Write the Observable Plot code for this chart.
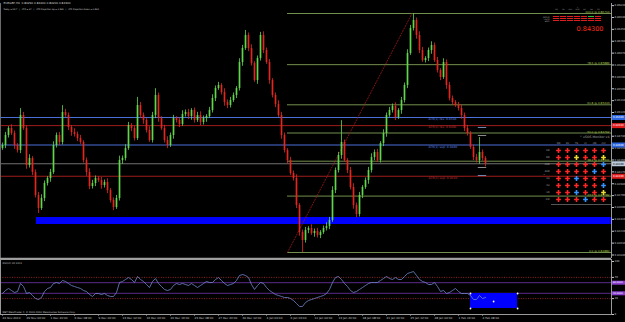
<!DOCTYPE html>
<html>
<head>
<meta charset="utf-8">
<script src="https://cdn.jsdelivr.net/npm/d3@7"></script>
<script src="https://cdn.jsdelivr.net/npm/@observablehq/plot@0.6"></script>
<style>
html,body{margin:0;padding:0;background:#000;}
#chart{position:relative;width:625px;height:322px;background:#000;overflow:hidden;}
</style>
</head>
<body>
<div id="chart"></div>
<script>
// ---------------- DATA ----------------
const symbolTitle = "EURGBP,H4  0.84290 0.84400 0.84200 0.84300";
const infoLine = "Today = 53.7   |   ATR = 67   |   ATR Projection Up = 0.849   |   ATR Projection Down = 0.842";
const bigPrice = "0.84300";

const firstOpen = 0.84544;
const closes = [
0.84592,0.84752,0.84864,0.84784,0.84592,0.84512,0.85072,0.84864,0.84272,0.84384,
0.84160,0.83792,0.83584,0.83744,0.83984,0.84064,0.84160,0.84592,0.84752,0.84640,
0.85120,0.85072,0.84880,0.84800,0.84768,0.84704,0.84640,0.84352,0.84160,0.83936,
0.83984,0.84064,0.84032,0.83952,0.84000,0.83872,0.83712,0.83600,0.83744,0.84352,
0.84384,0.84544,0.84912,0.84864,0.84704,0.85232,0.85072,0.84992,0.84832,0.84672,
0.85072,0.85392,0.85024,0.84864,0.84672,0.84592,0.84752,0.85024,0.84992,0.84928,
0.85088,0.85120,0.85056,0.85152,0.84992,0.85072,0.84960,0.85024,0.85056,0.85152,
0.85344,0.85504,0.85552,0.85440,0.85280,0.85232,0.85312,0.85392,0.85504,0.85920,
0.86144,0.86352,0.86144,0.85904,0.85632,0.85984,0.86352,0.86112,0.85920,0.85632,
0.85392,0.85248,0.85072,0.84752,0.84512,0.84352,0.84144,0.84064,0.83632,0.83200,
0.83072,0.83232,0.83264,0.83184,0.83216,0.83152,0.83200,0.83264,0.83296,0.83392,
0.83872,0.84192,0.84432,0.84640,0.84352,0.84192,0.83920,0.83632,0.83488,0.83792,
0.83920,0.84032,0.84192,0.84400,0.84480,0.84352,0.84624,0.84784,0.85072,0.85152,
0.85216,0.85040,0.85152,0.85312,0.85552,0.86064,0.86464,0.86592,0.86352,0.86112,
0.85952,0.85984,0.86112,0.86192,0.85952,0.85792,0.85680,0.85920,0.85552,0.85344,
0.85280,0.85232,0.85184,0.85072,0.84864,0.84784,0.84560,0.84400,0.84352,0.84480,
0.84384,0.84300];
// wick lengths beyond the body, in pips
const wickUp = [
4,5,3,6,4,3,11,5,4,6, 3,4,5,6,4,3,5,6,4,5, 11,5,4,3,6,4,5,3,4,6, 5,4,3,5,4,6,3,4,5,7,
4,6,5,3,4,13,5,4,3,6, 5,11,4,3,5,6,4,5,3,4, 6,4,5,3,4,5,6,4,3,5, 6,4,5,3,6,4,5,4,3,6,
5,8,4,6,3,4,5,6,4,5, 3,4,6,5,4,3,5,4,6,3, 4,5,3,6,4,5,3,4,6,5, 6,4,5,35,4,3,5,6,4,5,
3,4,5,6,4,5,3,6,4,5, 4,6,3,5,4,6,5,11,4,6, 5,3,4,6,4,5,3,6,4,5, 4,3,5,6,4,5,3,4,5,24,
4,3];
const wickDown = [
3,5,4,3,6,4,5,3,6,4, 5,4,8,3,5,4,6,3,4,5, 4,3,5,6,4,5,3,4,6,5, 4,5,3,6,4,5,4,5,3,4,
6,4,3,5,4,3,5,6,4,3, 4,5,6,3,4,5,3,6,4,5, 3,4,5,6,4,3,5,4,6,3, 4,5,3,4,6,5,4,3,5,4,
6,3,5,4,3,6,4,5,3,6, 4,5,3,6,4,5,3,4,5,6, 19,4,5,3,6,4,5,3,4,5, 3,5,4,6,3,5,4,6,5,4,
5,3,6,4,5,3,4,5,6,3, 4,5,3,6,4,5,3,4,6,5, 3,4,5,6,3,4,5,3,6,4, 5,3,4,6,5,4,3,5,4,6,
4,5];
const rsiValues = [
39.6,45.3,49.1,45.3,41.5,43.4,58.5,52.8,39.6,41.5,
35.9,30.2,28.3,32.1,43.4,49.1,50.9,58.5,60.4,58.5,
64.2,62.3,58.5,54.7,52.8,50.9,49.1,45.3,43.4,37.7,
34.0,39.6,39.6,37.7,39.6,35.9,34.0,34.0,41.5,60.4,
62.3,66.0,69.8,66.0,60.4,71.7,66.0,62.3,56.6,50.9,
62.3,67.9,58.5,52.8,47.2,45.3,47.2,54.7,58.5,56.6,
58.5,56.6,54.7,58.5,54.7,50.9,54.7,58.5,62.3,60.4,
60.4,66.0,69.8,64.2,58.5,54.7,56.6,58.5,64.2,73.6,
75.5,73.6,69.8,56.6,47.2,54.7,60.4,58.5,50.9,45.3,
41.5,37.7,35.9,34.0,32.1,32.1,30.2,26.4,20.8,15.1,
15.1,22.6,26.4,28.3,30.2,32.1,34.0,35.9,39.6,47.2,
60.4,69.8,71.7,66.0,58.5,52.8,45.3,41.5,43.4,47.2,
50.9,54.7,58.5,60.4,60.4,60.4,64.2,67.9,71.7,67.9,
66.0,69.8,66.0,66.0,71.7,77.4,79.2,81.1,73.6,66.0,
62.3,60.4,56.6,56.6,60.4,52.8,43.4,45.3,39.6,41.5,
45.3,49.1,43.4,39.6,39.6,39.6,35.9,28.3,28.3,35.9,
30.2,32.1];

const timeLabels = ["24 Nov 2010","29 Nov 04:00","1 Dec 20:00","6 Dec 08:00","9 Dec 00:00","13 Dec 12:00",
  "16 Dec 04:00","20 Dec 16:00","23 Dec 08:00","27 Dec 20:00","30 Dec 12:00","4 Jan 00:00","6 Jan 16:00",
  "11 Jan 04:00","13 Jan 20:00","18 Jan 08:00","21 Jan 00:00","25 Jan 12:00","28 Jan 04:00","1 Feb 16:00","4 Feb 08:00"];
const timeLabelBars = [0,8,16,24,32,40,48,56,64,72,80,88,96,104,112,120,128,136,144,152,160];

const priceTicks = [0.86830,0.86640,0.86450,0.86260,0.86070,0.85880,0.85690,0.85500,0.85310,0.85120,0.84930,
  0.84740,0.84550,0.84360,0.84170,0.83980,0.83790,0.83600,0.83410,0.83220,0.83030,0.82840];

const zoneStartBar = 11.3;
const zonePrices = [0.83328, 0.83440];
const atrPrices = [0.8504, 0.8491, 0.8460, 0.8410];
const atrNames = ["ATR(1) res", "ATR(1) res", "ATR(1) sup", "ATR(1) sup"];
const atrLabelBar = 142;
const bidPrice = 0.8430;
const fibLevels = [0, 23.6, 38.2, 50, 61.8, 78.6, 100];
const fibLowPrice = 0.82880, fibHighPrice = 0.86704;
const fibLowBar = 95, fibHighBar = 136.5;
const projPrices = [0.84880, 0.84752, 0.84240, 0.84112];
const projBars = [158.6, 161.4];
const axisBoxPrices = [0.8504, 0.8491, 0.8460, 0.8430, 0.8410];
const axisBoxKinds = ["blue", "red", "blue", "bid", "red"];

const rsiTitle = "RSI(14) 32.1311";
const copyright = "MBT MetaTrader 4, \u00a9 2001-2010 MetaQuotes Software Corp.";
const rsiDotted = [70, 30];
const rsiSolid = [60, 40];
const rsiTicks = [100, 70, 30, 0];
const rsiBoxBars = [156, 171.7];
const rsiBoxValues = [11.3, 39.6];
const rsiBoxMid = [163.7, 24.5];

const mtfCols = ["M1","M5","M15","M30","H1","H4","D1"];
const mtfRows = ["MACD","STR","EMA"];
const mtfStates = ["-----+-", "-------", "-------"];

const sigTitle = "xSOS Monitor v4";
const sigCols = ["PM","RV","TR","CI","CM","CCI"];
const sigRows = ["1M","5M","15M","30M","1H","4H","1D","1W"];
const sigStates = ["dddddd","ddyddy","dddddu","ddddud","dduddd","dddddu","dduddy","dddudd"];

// ---------------- STYLE ----------------
const BULL = "#5ed84a", BEAR = "#e3261f", ZONE = "#0000ff", FIB = "#738f4c", FIBTEXT = "#a0c040";
const atrColors = ["#4a6fd8", "#a01c1c", "#4a6fd8", "#a01c1c"];
const atrTextColors = ["#5d80e0", "#c03030", "#5d80e0", "#c03030"];
const projColors = ["#6f86b0", "#8a8a8a", "#8a8a8a", "#6f86b0"];
const boxFill = {blue: "#2b66e0", red: "#e01b1b", bid: "#b9cadb"};
const boxText = {blue: "#ffffff", red: "#ffffff", bid: "#000000"};
const sigColors = {d: "#ff2626", y: "#e8dc30", u: "#3592ff"};
const FONT = "'DejaVu Sans', sans-serif";
const xMin = -2 / 3, xMax = 203;
const yDomain = [0.82784, 0.86864];

// ---------------- BUILD ----------------
const bars = closes.map((c, i) => {
  const o = i === 0 ? firstOpen : closes[i - 1];
  return {i, o, c, hi: Math.max(o, c) + wickUp[i] / 1e4, lo: Math.min(o, c) - wickDown[i] / 1e4};
});
const candleColor = d => d.c >= d.o ? BULL : BEAR;
const fibs = fibLevels.map(l => ({l, p: fibLowPrice + (fibHighPrice - fibLowPrice) * l / 100}));
const atr = atrPrices.map((p, i) => ({p, name: atrNames[i], k: i}));
const proj = projPrices.map((p, k) => ({p, k}));
const boxes = axisBoxPrices.map((p, i) => ({p, kind: axisBoxKinds[i]}));

const baseStyle = {background: "transparent", color: "#c8c8c8", fontFamily: FONT, fontSize: "3px", overflow: "visible"};

const main = Plot.plot({
  width: 625, height: 260,
  marginLeft: 0, marginRight: 14, marginTop: 3, marginBottom: 2,
  style: baseStyle,
  x: {domain: [xMin, xMax], axis: null},
  y: {domain: yDomain},
  color: {type: "identity"},
  marks: [
    Plot.rect([{a: zoneStartBar, b: xMax, lo: zonePrices[0], hi: zonePrices[1]}], {x1: "a", x2: "b", y1: "lo", y2: "hi", fill: ZONE}),
    Plot.ruleY(atr, {y: "p", stroke: d => atrColors[d.k], strokeWidth: 1}),
    Plot.ruleY([bidPrice], {y: d => d, stroke: "#707070", strokeWidth: 1}),
    Plot.ruleY(fibs, {y: "p", x1: fibLowBar, x2: xMax, stroke: FIB, strokeWidth: 1}),
    Plot.line([{x: fibLowBar, p: fibLowPrice}, {x: fibHighBar, p: fibHighPrice}], {x: "x", y: "p", stroke: "#a01818", strokeWidth: 0.8, strokeDasharray: "1.2,1.6"}),
    Plot.ruleX(bars, {x: "i", y1: "lo", y2: "hi", stroke: candleColor, strokeWidth: 0.8}),
    Plot.ruleX(bars, {x: "i", y1: "o", y2: "c", stroke: candleColor, strokeWidth: 1.7}),
    Plot.ruleY(proj, {y: "p", x1: projBars[0], x2: projBars[1], stroke: d => projColors[d.k], strokeWidth: 1}),
    Plot.text(atr, {x: atrLabelBar, y: "p", text: d => `${d.name}: ${d.p.toFixed(4)}`, textAnchor: "start", lineAnchor: "top", dy: 0.6, fill: d => atrTextColors[d.k], fontSize: 3}),
    Plot.text(fibs, {y: "p", frameAnchor: "right", text: d => `${d.l.toFixed(1)} @ ${d.p.toFixed(5)}`, textAnchor: "end", lineAnchor: "bottom", dx: -2, dy: -0.4, fill: FIBTEXT, fontSize: 2.8}),
    Plot.axisY(priceTicks, {anchor: "right", tickSize: 2, tickPadding: 1, tickFormat: d3.format(".5f"), fontSize: 2.6}),
    Plot.ruleY(boxes, {y: "p", x1: xMax + 0.1, x2: xMax + 5, stroke: d => boxFill[d.kind], strokeWidth: 5}),
    Plot.text(boxes, {y: "p", frameAnchor: "right", dx: 1.5, textAnchor: "start", text: d => d.p.toFixed(5), fill: d => boxText[d.kind], fontSize: 2.6}),
    Plot.ruleX([xMin], {x: d => d, stroke: "#6a6a6a"}),
    Plot.ruleX([xMax], {x: d => d, stroke: "#9a9a9a"}),
    Plot.ruleY([yDomain[0]], {y: d => d, stroke: "#a0a0a0", strokeWidth: 1.5}),
    Plot.text([symbolTitle], {text: d => d, frameAnchor: "top-left", dx: 3, dy: 0, lineAnchor: "middle", textAnchor: "start", fill: "#d8d8d8", fontSize: 2.8}),
    Plot.text([infoLine], {text: d => d, frameAnchor: "top-left", dx: 3, dy: 5.5, lineAnchor: "middle", textAnchor: "start", fill: "#d8d8d8", fontSize: 2.1}),
    Plot.text([bigPrice], {text: d => d, frameAnchor: "top-right", dx: -8, dy: 25, lineAnchor: "middle", textAnchor: "end", fill: "#ff2a1a", fontSize: 6.5})
  ]
});

const rsiBox = {a: rsiBoxBars[0], b: rsiBoxBars[1], lo: rsiBoxValues[0], hi: rsiBoxValues[1]};
const rsiCorners = [
  {x: rsiBoxBars[0], v: rsiBoxValues[0]}, {x: rsiBoxBars[1], v: rsiBoxValues[0]},
  {x: rsiBoxBars[0], v: rsiBoxValues[1]}, {x: rsiBoxBars[1], v: rsiBoxValues[1]},
  {x: rsiBoxMid[0], v: rsiBoxMid[1]}
];

const rsiPlot = Plot.plot({
  width: 625, height: 64,
  marginLeft: 0, marginRight: 14, marginTop: 1, marginBottom: 8,
  style: baseStyle,
  x: {domain: [xMin, xMax]},
  y: {domain: [0, 100], range: [56, 3]},
  color: {type: "identity"},
  marks: [
    Plot.ruleY(rsiDotted, {y: d => d, stroke: "#a02828", strokeWidth: 0.9, strokeDasharray: "1,1.4"}),
    Plot.ruleY(rsiSolid, {y: d => d, stroke: "#5a2a8a", strokeWidth: 1}),
    Plot.rect([rsiBox], {x1: "a", x2: "b", y1: "lo", y2: "hi", fill: ZONE}),
    Plot.line(rsiValues, {x: (d, i) => i, y: d => d, stroke: "#7088cc", strokeWidth: 0.8}),
    Plot.dot(rsiCorners, {x: "x", y: "v", r: 0.9, fill: "#ffffff"}),
    Plot.axisY(rsiTicks, {anchor: "right", tickSize: 2, tickPadding: 1, fontSize: 2.6}),
    Plot.ruleY(rsiSolid, {y: d => d, x1: xMax + 0.1, x2: xMax + 5, stroke: "#8a3fd0", strokeWidth: 4}),
    Plot.text(rsiSolid, {y: d => d, frameAnchor: "right", dx: 1.5, textAnchor: "start", text: d => d.toFixed(4), fill: "#ffffff", fontSize: 2.4}),
    Plot.axisX(timeLabelBars, {anchor: "bottom", tickSize: 1.5, tickPadding: 1, textAnchor: "start", tickFormat: d => timeLabels[timeLabelBars.indexOf(d)], fontSize: 2.8}),
    Plot.frame({stroke: "#9a9a9a"}),
    Plot.text([rsiTitle], {text: d => d, frameAnchor: "top-left", dx: 2, dy: 4, lineAnchor: "middle", textAnchor: "start", fill: "#c8c8c8", fontSize: 2.4}),
    Plot.text([copyright], {text: d => d, frameAnchor: "bottom-left", dx: 2, dy: -2, lineAnchor: "middle", textAnchor: "start", fill: "#c8c8c8", fontSize: 2.4})
  ]
});

const mtfCells = mtfRows.flatMap((r, ri) => mtfCols.map((c, ci) => ({r, c, s: mtfStates[ri][ci]})));
const mtf = Plot.plot({
  width: 66, height: 22,
  marginLeft: 10, marginRight: 2, marginTop: 11, marginBottom: 2,
  style: {...baseStyle, color: "#a0a0a0"},
  x: {domain: mtfCols, padding: 0.14},
  y: {domain: mtfRows, padding: 0.28},
  color: {type: "identity"},
  marks: [
    Plot.cell(mtfCells, {x: "c", y: "r", fill: d => d.s === "+" ? "#2fbf3a" : "#e01c1c"}),
    Plot.axisX({anchor: "top", tickSize: 0, tickPadding: 4.5, fontSize: 1.8}),
    Plot.axisY({anchor: "left", tickSize: 0, tickPadding: 1, fontSize: 2.2})
  ]
});

const sigCells = sigRows.flatMap((r, ri) => sigCols.map((c, ci) => ({r, c, s: sigStates[ri][ci]})));
const sig = Plot.plot({
  width: 72, height: 73,
  marginLeft: 11, marginRight: 2, marginTop: 12, marginBottom: 1,
  style: {...baseStyle, color: "#a8a8a8"},
  x: {domain: sigCols},
  y: {domain: sigRows},
  color: {type: "identity"},
  marks: [
    Plot.frame({anchor: "bottom", stroke: "#555555"}),
    Plot.dot(sigCells, {x: "c", y: "r", symbol: "cross", r: 2, fill: d => sigColors[d.s], stroke: "none"}),
    Plot.axisX({anchor: "top", tickSize: 0, tickPadding: 1, fontSize: 2.4}),
    Plot.axisY({anchor: "left", tickSize: 0, tickPadding: 2, fontSize: 2.4}),
    Plot.text([sigTitle], {text: d => d, frameAnchor: "top-right", dx: -1, dy: -8, lineAnchor: "middle", textAnchor: "end", fill: "#a8a8a8", fontSize: 3.2})
  ]
});

const root = document.getElementById("chart");
function place(el, left, top) {
  el.style.position = "absolute";
  el.style.left = left + "px";
  el.style.top = top + "px";
  el.style.maxWidth = "none";
  root.appendChild(el);
}
place(main, 0, 0);
place(rsiPlot, 0, 258);
place(mtf, 540, 3);
place(sig, 540, 132);
</script>
</body>
</html>
